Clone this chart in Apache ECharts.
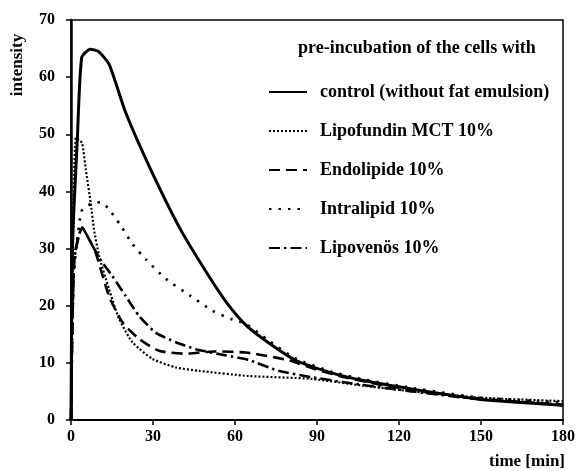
<!DOCTYPE html>
<html>
<head>
<meta charset="utf-8">
<script src="https://cdn.jsdelivr.net/npm/echarts@6/dist/echarts.min.js"></script>
<style>
  html, body { margin: 0; padding: 0; background: #fff; }
  #chart { width: 578px; height: 471px; }
</style>
</head>
<body>
<div id="chart"></div>
<script>
// values (time in min, intensity)
const controlT = [0, 0.5, 2.3, 3.9, 7, 10, 14, 20, 29, 40, 50, 57, 64, 72, 82, 95, 107, 125, 150, 180];
const controlV = [0, 30, 49, 63.4, 64.9, 64.5, 62.2, 53.8, 44, 33.4, 25.5, 20.5, 16.6, 13.6, 10.5, 8.3, 6.9, 5.4, 3.6, 2.6];

const lipofundinT = [0, 0.7, 1.8, 4, 5.4, 7.2, 8.4, 10.3, 13.9, 17.6, 22.5, 29.8, 38.4, 47, 65, 88, 107, 125, 150, 180];
const lipofundinV = [0, 30, 49.4, 48.5, 43.9, 38, 33.4, 28.7, 22.9, 17.7, 13.6, 10.7, 9.2, 8.6, 7.7, 7.2, 6.0, 5.0, 3.9, 3.3];

const endolipideT = [0, 1.2, 4.1, 6, 9, 13.9, 18.8, 24.9, 32.2, 42, 52, 64, 74, 80, 90, 100, 115, 130, 150, 180];
const endolipideV = [0, 28.5, 33.7, 32.2, 29.3, 21.7, 17.1, 14.2, 12.1, 11.6, 12.0, 11.8, 11.0, 10.4, 8.8, 7.5, 6.0, 4.9, 3.7, 2.7];

const intralipidT = [0, 1, 3.8, 7.2, 10.9, 13.9, 18.2, 22.5, 27.4, 34.7, 43.8, 51.8, 59, 64, 72, 82, 95, 107, 125, 150, 180];
const intralipidV = [0, 25, 36.5, 37.8, 38.1, 36.9, 34, 30.8, 28.1, 24.7, 21.7, 19.1, 17.6, 16.8, 14.0, 10.8, 8.5, 7.1, 5.6, 3.9, 3.1];

const lipovenosT = [0, 1.2, 4.1, 6, 10.3, 15.1, 20, 24.9, 31, 38.4, 45.7, 56.7, 65, 76, 88, 100, 115, 130, 150, 180];
const lipovenosV = [0, 28, 33.7, 32.2, 28.4, 25.2, 21.7, 18.2, 15.3, 13.6, 12.4, 11.3, 10.5, 8.6, 7.5, 6.6, 5.6, 4.7, 3.6, 2.6];

const seriesNames = [
  "control (without fat emulsion)",
  "Lipofundin MCT 10%",
  "Endolipide 10%",
  "Intralipid 10%",
  "Lipovenös 10%"
];
const xTicks = [0, 30, 60, 90, 120, 150, 180];
const yTicks = [0, 10, 20, 30, 40, 50, 60, 70];

const FONT = "Liberation Serif";

function pairs(t, v) {
  return t.map((x, i) => [x, v[i]]);
}

function lineSeries(name, t, v, width, type) {
  return {
    name: name,
    type: "line",
    symbol: "none",
    smooth: 0.2,
    animation: false,
    lineStyle: { color: "#000", width: width, type: type },
    itemStyle: { color: "#000" },
    data: pairs(t, v)
  };
}

const chart = echarts.init(document.getElementById("chart"), null, { renderer: "canvas" });

chart.setOption({
  animation: false,
  backgroundColor: "#fff",
  grid: {
    left: 71,
    right: 14,
    top: 20,
    bottom: 51,
    show: true,
    borderColor: "#000",
    borderWidth: 1.5
  },
  title: {
    text: "pre-incubation of the cells with",
    left: 293,
    top: 34,
    textStyle: { fontFamily: FONT, fontWeight: "bold", fontSize: 18, color: "#000" }
  },
  legend: {
    orient: "vertical",
    left: 263,
    top: 78,
    itemWidth: 38,
    itemHeight: 20,
    itemGap: 21,
    data: seriesNames,
    itemStyle: { opacity: 0 },
    textStyle: {
      fontFamily: FONT,
      fontWeight: "bold",
      fontSize: 18,
      color: "#000",
      padding: [0, 0, 0, 8]
    }
  },
  xAxis: {
    type: "value",
    min: 0,
    max: 180,
    interval: 30,
    axisLine: { lineStyle: { color: "#000", width: 2 } },
    axisTick: { show: true, length: 5, lineStyle: { color: "#000", width: 1.5 } },
    axisLabel: {
      margin: 9,
      fontFamily: FONT,
      fontWeight: "bold",
      fontSize: 16,
      color: "#000",
      formatter: (v) => (xTicks.includes(v) ? String(v) : "")
    },
    splitLine: { show: false }
  },
  yAxis: {
    type: "value",
    min: 0,
    max: 70,
    interval: 10,
    axisLine: { show: true, lineStyle: { color: "#000", width: 2.5 } },
    axisTick: { show: true, length: 5, lineStyle: { color: "#000", width: 1.5 } },
    axisLabel: {
      margin: 16,
      fontFamily: FONT,
      fontWeight: "bold",
      fontSize: 16,
      color: "#000",
      formatter: (v) => (yTicks.includes(v) ? String(v) : "")
    },
    splitLine: { show: false }
  },
  graphic: [
    {
      type: "text",
      x: 18,
      y: 65,
      rotation: Math.PI / 2,
      style: {
        text: "intensity",
        fontFamily: FONT,
        fontWeight: "bold",
        fontSize: 17,
        fill: "#000",
        textAlign: "center",
        textVerticalAlign: "middle"
      }
    },
    {
      type: "text",
      x: 565,
      y: 462,
      style: {
        text: "time [min]",
        fontFamily: FONT,
        fontWeight: "bold",
        fontSize: 17,
        fill: "#000",
        textAlign: "right",
        textVerticalAlign: "middle"
      }
    }
  ],
  series: [
    lineSeries(seriesNames[0], controlT, controlV, 3, "solid"),
    lineSeries(seriesNames[1], lipofundinT, lipofundinV, 2.2, [2, 2]),
    lineSeries(seriesNames[2], endolipideT, endolipideV, 2.6, [11, 6]),
    lineSeries(seriesNames[3], intralipidT, intralipidV, 2.6, [2.5, 7]),
    lineSeries(seriesNames[4], lipovenosT, lipovenosV, 2.6, [11, 4, 2.5, 4])
  ]
});
</script>
</body>
</html>
